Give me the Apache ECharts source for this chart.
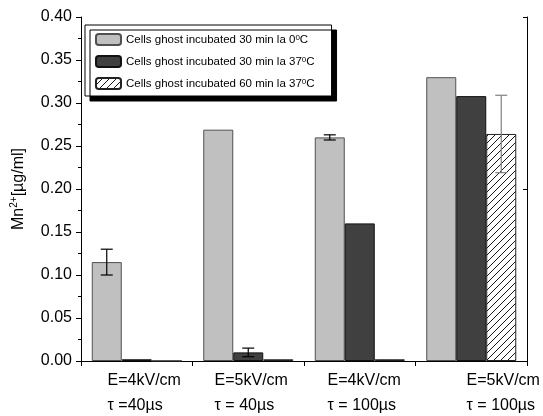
<!DOCTYPE html>
<html>
<head>
<meta charset="utf-8">
<script src="https://cdn.jsdelivr.net/npm/echarts@6/dist/echarts.min.js"></script>
<style>
  html, body { margin: 0; padding: 0; background: #fff; }
  #chart { width: 543px; height: 416px; }
</style>
</head>
<body>
<div id="chart"></div>
<script>
// Field / pulse-length conditions (two-line axis labels)
var fieldLabels = ['E=4kV/cm', 'E=5kV/cm', 'E=4kV/cm', 'E=5kV/cm'];
var tauLabels = ['\u03c4 =40\u00b5s', '\u03c4 = 40\u00b5s', '\u03c4 = 100\u00b5s', '\u03c4 = 100\u00b5s'];

// Incubation conditions
var seriesNames = [
  'Cells ghost incubated 30 min la 0\u00b0C',
  'Cells ghost incubated 30 min la 37\u00b0C',
  'Cells ghost incubated 60 min la 37\u00b0C'
];

// Mn2+ concentration, ug/ml
var incub30min0C = [0.115, 0.269, 0.260, 0.330];
var incub30min37C = [0.002, 0.010, 0.160, 0.308];
var incub60min37C = [0, 0.002, 0.002, 0.264];

// Standard deviations (null = no error bar)
var err30min0C = [0.015, null, 0.003, null];
var err30min37C = [null, 0.005, null, null];
var err60min37C = [null, null, null, 0.045];

var yTicks = { min: 0, max: 0.4, step: 0.05 };

var FONT = "'Liberation Sans'";

// diagonal hatch tile for the third series
function hatchPattern() {
  var c = document.createElement('canvas');
  c.width = 7; c.height = 7;
  var g = c.getContext('2d');
  g.fillStyle = '#fff';
  g.fillRect(0, 0, 7, 7);
  g.strokeStyle = '#000';
  g.lineWidth = 0.9;
  g.beginPath();
  g.moveTo(-1, 8); g.lineTo(8, -1);
  g.moveTo(-1, 1); g.lineTo(1, -1);
  g.moveTo(6, 8); g.lineTo(8, 6);
  g.stroke();
  return c;
}

var values = [incub30min0C, incub30min37C, incub60min37C];
var errors = [err30min0C, err30min37C, err60min37C];
var fills = ['#c0c0c0', '#404040', { image: hatchPattern(), repeat: 'repeat' }];
var borders = ['#505050', '#111', '#222'];
var errColors = ['#000', '#000', '#808080'];

// left padding that shifts each left-aligned two-line label
var labelPads = [15, 6, 9, 64];
var rich = {};
labelPads.forEach(function (p, i) {
  rich['r' + i] = {
    align: 'left', fontSize: 16, lineHeight: 25, color: '#000',
    fontFamily: FONT,
    padding: [0, 0, 0, p]
  };
});

var barSeries = values.map(function (v, i) {
  return {
    name: seriesNames[i],
    type: 'bar',
    data: v,
    barWidth: 30,
    barGap: '0%',
    itemStyle: { color: fills[i], borderColor: borders[i], borderWidth: 1 },
    emphasis: { disabled: true },
    silent: true,
    z: 2
  };
});

// error bars: [category, series, value, sd]
var errData = [];
errors.forEach(function (arr, s) {
  arr.forEach(function (e, c) {
    if (e != null) errData.push([c, s, values[s][c], e]);
  });
});

var errSeries = {
  type: 'custom',
  data: errData,
  z: 5,
  silent: true,
  renderItem: function (params, api) {
    var c = api.value(0), s = api.value(1), v = api.value(2), e = api.value(3);
    var dx = (s - 1) * 30;
    var top = api.coord([c, v + e]);
    var bot = api.coord([c, v - e]);
    var x = top[0] + dx;
    var half = 6;
    var col = errColors[s];
    var st = { stroke: col, lineWidth: 1.2 };
    return {
      type: 'group',
      children: [
        { type: 'line', shape: { x1: x, y1: top[1], x2: x, y2: bot[1] }, style: st },
        { type: 'line', shape: { x1: x - half, y1: top[1], x2: x + half, y2: top[1] }, style: st },
        { type: 'line', shape: { x1: x - half, y1: bot[1], x2: x + half, y2: bot[1] }, style: st }
      ]
    };
  }
};

var chart = echarts.init(document.getElementById('chart'), null, { renderer: 'canvas' });
var axisLineStyle = { color: '#000', width: 1 };

chart.setOption({
  animation: false,
  backgroundColor: '#fff',
  textStyle: { fontFamily: FONT },
  grid: { left: 81, right: 16, top: 17, bottom: 55 },
  legend: {
    data: seriesNames,
    orient: 'vertical',
    left: 85,
    top: 25,
    itemWidth: 25,
    itemHeight: 11,
    itemGap: 9,
    padding: [8, 17, 6, 10],
    backgroundColor: '#fff',
    borderColor: '#000',
    borderWidth: 1,
    shadowColor: '#000',
    shadowBlur: 0,
    shadowOffsetX: 5,
    shadowOffsetY: 5,
    selectedMode: false,
    textStyle: {
      fontFamily: FONT,
      fontSize: 11.5,
      lineHeight: 12,
      color: '#000',
      rich: {
        s: { fontSize: 8, verticalAlign: 'top', lineHeight: 9, fontFamily: FONT }
      }
    },
    formatter: function (name) {
      return name.replace('\u00b0C', '{s|0}C');
    }
  },
  xAxis: [{
    type: 'category',
    data: fieldLabels,
    position: 'bottom',
    axisLine: { lineStyle: axisLineStyle },
    axisTick: { show: true, length: 5, lineStyle: axisLineStyle },
    axisLabel: {
      interval: 0,
      margin: 7,
      fontFamily: FONT,
      formatter: function (val, idx) {
        return '{r' + idx + '|' + val + '}\n{r' + idx + '|' + tauLabels[idx] + '}';
      },
      rich: rich
    },
    splitLine: { show: false }
  }, {
    type: 'category',
    data: fieldLabels,
    position: 'top',
    axisLine: { lineStyle: axisLineStyle },
    axisTick: { show: false },
    axisLabel: { show: false }
  }],
  yAxis: [{
    type: 'value',
    min: yTicks.min,
    max: yTicks.max,
    interval: yTicks.step,
    position: 'left',
    name: '{n|Mn}{s|2+}{n|[\u00b5g/ml]}',
    nameLocation: 'middle',
    nameRotate: 90,
    nameGap: 52,
    nameTextStyle: {
      fontFamily: FONT,
      rich: {
        n: { fontSize: 16, color: '#000', lineHeight: 20, fontFamily: FONT },
        s: { fontSize: 10, color: '#000', verticalAlign: 'top', lineHeight: 11, fontFamily: FONT }
      }
    },
    axisLine: { show: true, lineStyle: axisLineStyle },
    axisTick: { show: true, length: 5, lineStyle: axisLineStyle },
    minorTick: { show: true, splitNumber: 2, length: 3, lineStyle: axisLineStyle },
    axisLabel: {
      margin: 9,
      fontSize: 16,
      color: '#000',
      fontFamily: FONT,
      formatter: function (v) { return v.toFixed(2); }
    },
    splitLine: { show: false }
  }, {
    type: 'value',
    min: 0,
    max: 0.4,
    interval: 0.2,
    position: 'right',
    axisLine: { show: true, lineStyle: axisLineStyle },
    axisTick: { show: true, inside: true, length: 4, lineStyle: axisLineStyle },
    axisLabel: { show: false },
    splitLine: { show: false }
  }],
  series: barSeries.concat([errSeries])
});
</script>
</body>
</html>
